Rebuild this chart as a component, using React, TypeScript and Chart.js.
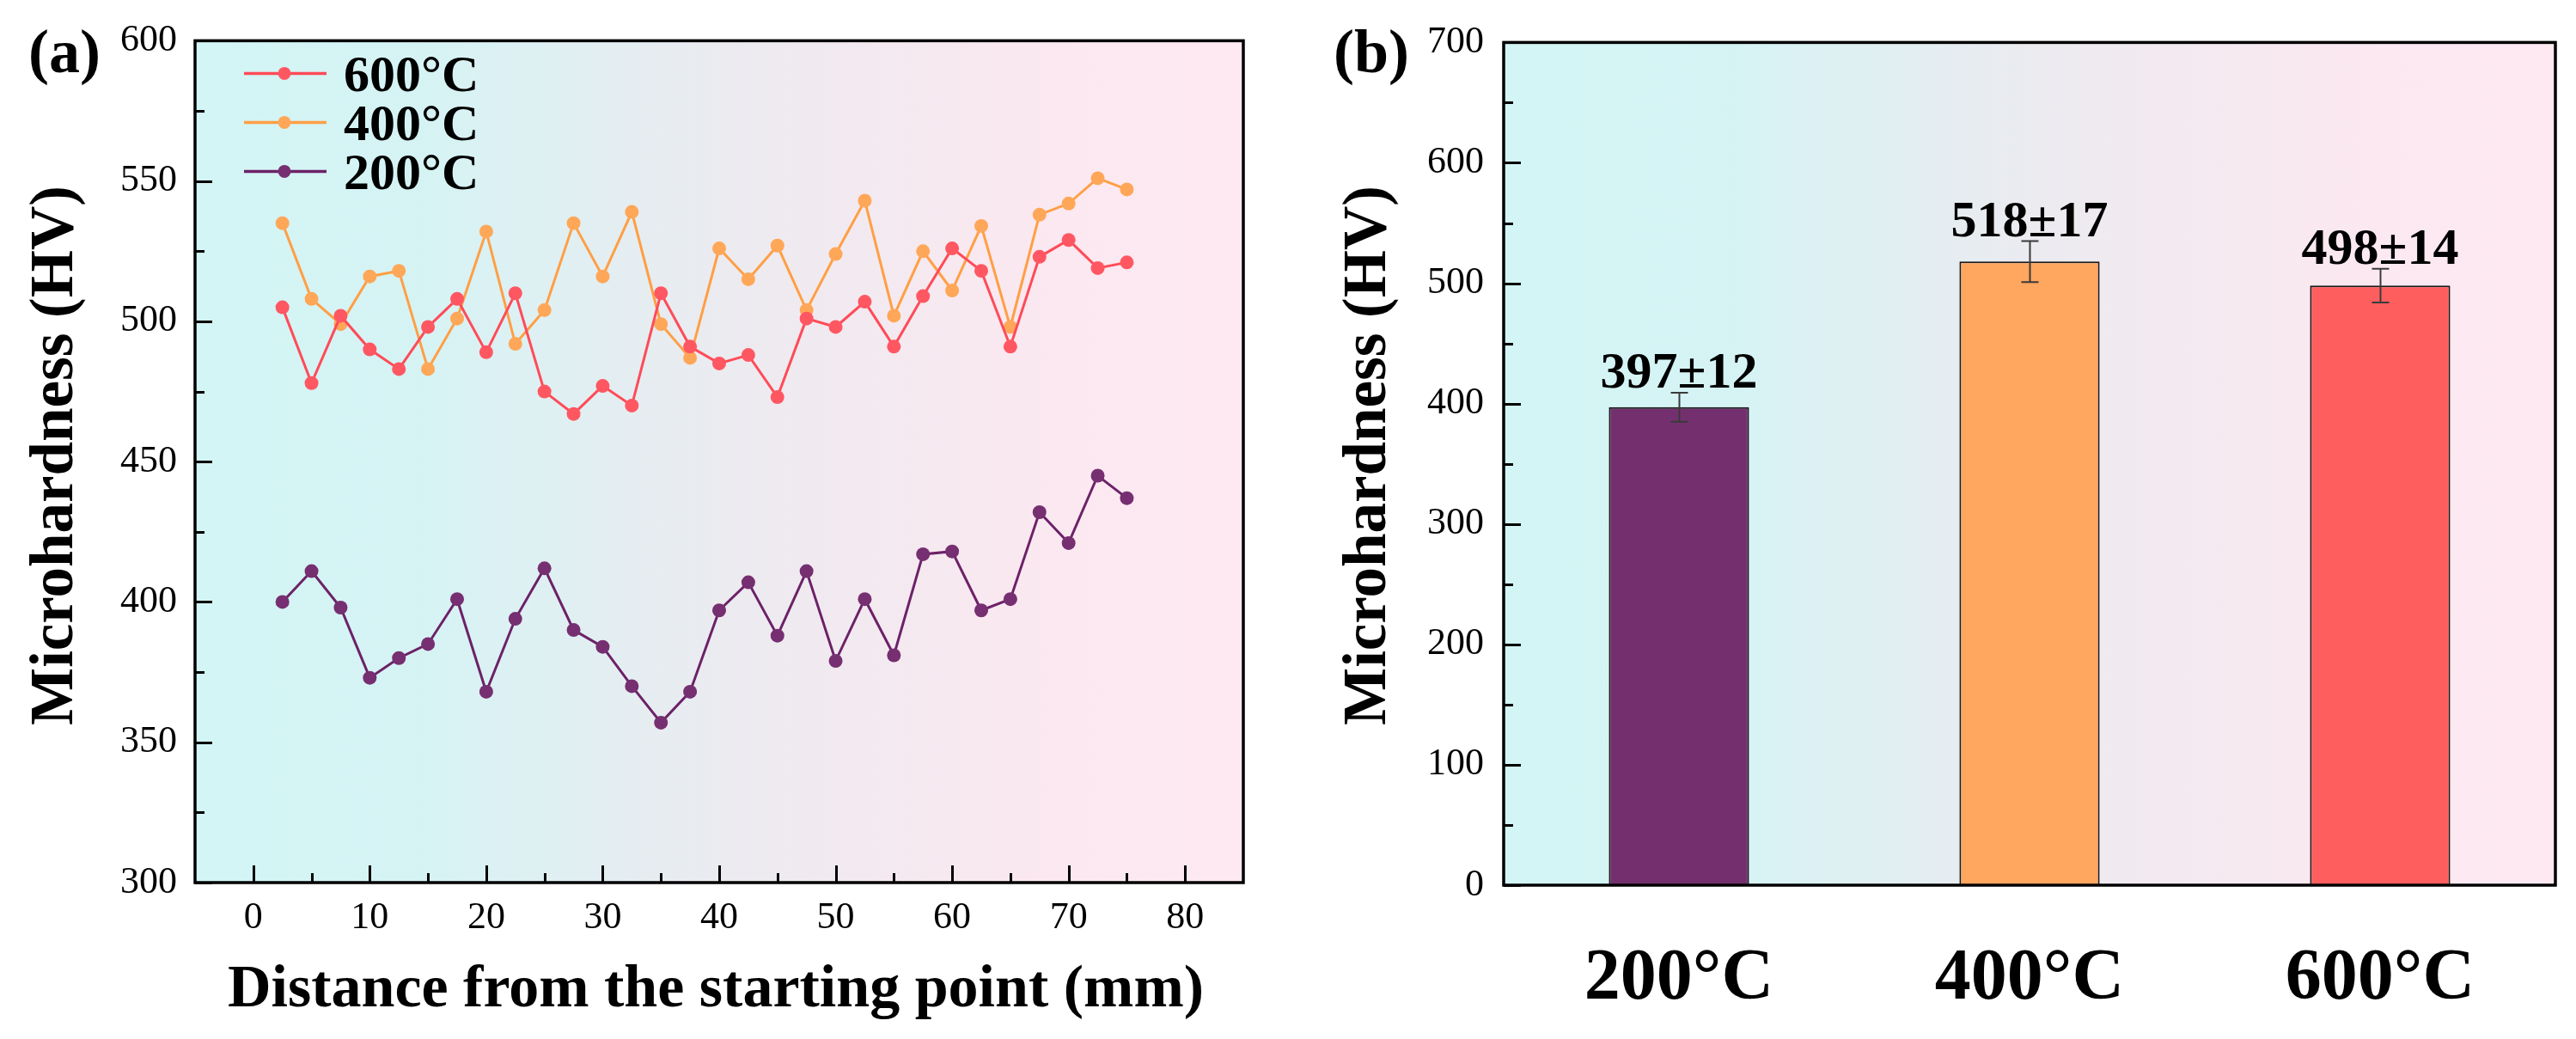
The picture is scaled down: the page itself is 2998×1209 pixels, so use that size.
import React, { useEffect, useRef } from "react";
import { Chart, registerables } from "chart.js";

Chart.register(...registerables);

const SERIF = "'Liberation Serif', 'Times New Roman', Times, serif";

// ---------- Panel (a) data ----------
const distances = [2.5, 5, 7.5, 10, 12.5, 15, 17.5, 20, 22.5, 25, 27.5, 30, 32.5, 35, 37.5, 40, 42.5, 45, 47.5, 50, 52.5, 55, 57.5, 60, 62.5, 65, 67.5, 70, 72.5, 75];
const hv600 = [505, 478, 502, 490, 483, 498, 508, 489, 510, 475, 467, 477, 470, 510, 491, 485, 488, 473, 501, 498, 507, 491, 509, 526, 518, 491, 523, 529, 519, 521];
const hv400 = [535, 508, 499, 516, 518, 483, 501, 532, 492, 504, 535, 516, 539, 499, 487, 526, 515, 527, 504, 524, 543, 502, 525, 511, 534, 498, 538, 542, 551, 547];
const hv200 = [400, 411, 398, 373, 380, 385, 401, 368, 394, 412, 390, 384, 370, 357, 368, 397, 407, 388, 411, 379, 401, 381, 417, 418, 397, 401, 432, 421, 445, 437];
const seriesLabels = ["600°C", "400°C", "200°C"];
const lineColors = ["#FF4B58", "#FF9F45", "#6C2268"];
const pointColors = ["#FF5762", "#FFA758", "#762F71"];
const xTicksA = [0, 10, 20, 30, 40, 50, 60, 70, 80];
const xMinorA = [5, 15, 25, 35, 45, 55, 65, 75];
const yTicksA = [300, 350, 400, 450, 500, 550, 600];
const yMinorA = [325, 375, 425, 475, 525, 575];

// ---------- Panel (b) data ----------
const barCategories = ["200°C", "400°C", "600°C"];
const barMeans = [397, 518, 498];
const barErrors = [12, 17, 14];
const barColors = ["#74306E", "#FFA65F", "#FF5E5E"];
const yTicksB = [0, 100, 200, 300, 400, 500, 600, 700];
const yMinorB = [50, 150, 250, 350, 450, 550, 650];

const gradientStops: [number, string][] = [
  [0, "#D3F5F5"],
  [0.22, "#D6F3F4"],
  [0.5, "#EBEBF0"],
  [0.78, "#FAE8F0"],
  [1, "#FEE9F2"],
];

const backgroundPlugin = {
  id: "bgGradient",
  beforeDraw(chart: any) {
    const { ctx, chartArea: a } = chart;
    ctx.save();
    ctx.fillStyle = "#ffffff";
    ctx.fillRect(0, 0, chart.width, chart.height);
    const g = ctx.createLinearGradient(a.left, 0, a.right, 0);
    gradientStops.forEach(([p, c]) => g.addColorStop(p, c));
    ctx.fillStyle = g;
    ctx.fillRect(a.left, a.top, a.right - a.left, a.bottom - a.top);
    ctx.restore();
  },
};

function frameTicksPlugin(cfg: { xMajor?: number[]; xMinor?: number[]; yMajor: number[]; yMinor: number[] }) {
  return {
    id: "frameTicks",
    afterDraw(chart: any) {
      const { ctx, chartArea: a, scales } = chart;
      ctx.save();
      ctx.strokeStyle = "#000";
      ctx.lineWidth = 3;
      const ys = scales.y;
      const drawY = (vals: number[], len: number) => {
        vals.forEach((v) => {
          const py = Math.round(ys.getPixelForValue(v)) + 0.5;
          ctx.beginPath();
          ctx.moveTo(a.left, py);
          ctx.lineTo(a.left + len, py);
          ctx.stroke();
        });
      };
      drawY(cfg.yMajor, 20);
      drawY(cfg.yMinor, 11);
      if (cfg.xMajor) {
        const xs = scales.x;
        const drawX = (vals: number[], len: number) => {
          vals.forEach((v) => {
            const px = Math.round(xs.getPixelForValue(v)) + 0.5;
            ctx.beginPath();
            ctx.moveTo(px, a.bottom);
            ctx.lineTo(px, a.bottom - len);
            ctx.stroke();
          });
        };
        drawX(cfg.xMajor, 20);
        drawX(cfg.xMinor || [], 11);
      }
      ctx.lineWidth = 3.5;
      ctx.strokeRect(a.left, a.top, a.right - a.left, a.bottom - a.top);
      ctx.restore();
    },
  };
}

function drawRotatedTitle(ctx: CanvasRenderingContext2D, text: string, baselineX: number, centerY: number, size: number) {
  ctx.save();
  ctx.translate(baselineX, centerY);
  ctx.rotate(-Math.PI / 2);
  ctx.font = `bold ${size}px ${SERIF}`;
  ctx.fillStyle = "#000";
  ctx.textAlign = "center";
  ctx.textBaseline = "alphabetic";
  ctx.fillText(text, 0, 0);
  ctx.restore();
}

const lineTextPlugin = {
  id: "lineText",
  afterDraw(chart: any) {
    const { ctx, chartArea: a } = chart;
    ctx.save();
    ctx.fillStyle = "#000";
    ctx.textBaseline = "alphabetic";
    ctx.textAlign = "left";
    ctx.font = `bold 72px ${SERIF}`;
    ctx.fillText("(a)", 33, 84);
    ctx.font = `bold 70px ${SERIF}`;
    ctx.textAlign = "center";
    ctx.fillText("Distance from the starting point (mm)", (a.left + a.right) / 2 - 4, 1171);
    ctx.restore();
    drawRotatedTitle(ctx, "Microhardness (HV)", 84, 530, 71);

    // legend
    ctx.save();
    chart.data.datasets.forEach((ds: any, i: number) => {
      const cy = a.top + 38 + i * 57;
      ctx.strokeStyle = ds.borderColor;
      ctx.lineWidth = 3.5;
      ctx.beginPath();
      ctx.moveTo(a.left + 57, cy);
      ctx.lineTo(a.left + 153, cy);
      ctx.stroke();
      ctx.fillStyle = ds.pointBackgroundColor;
      ctx.beginPath();
      ctx.arc(a.left + 104, cy, 7.5, 0, Math.PI * 2);
      ctx.fill();
      ctx.fillStyle = "#000";
      ctx.font = `bold 60px ${SERIF}`;
      ctx.textAlign = "left";
      ctx.textBaseline = "alphabetic";
      ctx.fillText(ds.label, a.left + 173, cy + 21);
    });
    ctx.restore();
  },
};

const barTextPlugin = {
  id: "barText",
  afterDatasetsDraw(chart: any) {
    const { ctx, scales } = chart;
    const meta = chart.getDatasetMeta(0);
    ctx.save();
    meta.data.forEach((bar: any, i: number) => {
      const m = barMeans[i];
      const e = barErrors[i];
      const yTop = scales.y.getPixelForValue(m + e);
      const yBot = scales.y.getPixelForValue(m - e);
      const x = Math.round(bar.x) + 0.5;
      ctx.strokeStyle = "#3a3a3a";
      ctx.lineWidth = 2;
      ctx.beginPath();
      ctx.moveTo(x, yTop);
      ctx.lineTo(x, yBot);
      ctx.moveTo(x - 10, yTop);
      ctx.lineTo(x + 10, yTop);
      ctx.moveTo(x - 10, yBot);
      ctx.lineTo(x + 10, yBot);
      ctx.stroke();
      ctx.fillStyle = "#000";
      ctx.font = `bold 60px ${SERIF}`;
      ctx.textAlign = "center";
      ctx.textBaseline = "alphabetic";
      ctx.fillText(`${m}±${e}`, bar.x, yTop - 6);
    });
    ctx.restore();
  },
  afterDraw(chart: any) {
    const { ctx } = chart;
    ctx.save();
    ctx.fillStyle = "#000";
    ctx.textBaseline = "alphabetic";
    ctx.textAlign = "left";
    ctx.font = `bold 72px ${SERIF}`;
    ctx.fillText("(b)", 52, 84);
    ctx.restore();
    drawRotatedTitle(ctx, "Microhardness (HV)", 112, 530, 71);
  },
};

function lineConfig(): any {
  const series = [hv600, hv400, hv200];
  return {
    type: "line",
    data: {
      datasets: series.map((vals, i) => ({
        label: seriesLabels[i],
        data: distances.map((d, j) => ({ x: d, y: vals[j] })),
        borderColor: lineColors[i],
        backgroundColor: pointColors[i],
        pointBackgroundColor: pointColors[i],
        pointBorderColor: pointColors[i],
        pointBorderWidth: 0,
        pointRadius: 8,
        borderWidth: 3,
        tension: 0,
        fill: false,
      })),
    },
    options: {
      responsive: false,
      animation: false,
      events: [],
      layout: { padding: { left: 0, top: 43.5, right: 53, bottom: 0 } },
      plugins: { legend: { display: false }, tooltip: { enabled: false } },
      scales: {
        x: {
          type: "linear",
          min: -5,
          max: 85,
          afterBuildTicks: (s: any) => {
            s.ticks = xTicksA.map((v) => ({ value: v }));
          },
          afterFit: (s: any) => {
            s.height = 182;
          },
          grid: { display: false, drawTicks: false },
          border: { display: false },
          ticks: { padding: 15, color: "#000", maxRotation: 0, autoSkip: false, font: { family: SERIF, size: 44 } },
        },
        y: {
          min: 300,
          max: 600,
          afterBuildTicks: (s: any) => {
            s.ticks = yTicksA.map((v) => ({ value: v }));
          },
          afterFit: (s: any) => {
            s.width = 227;
          },
          grid: { display: false, drawTicks: false },
          border: { display: false },
          ticks: { padding: 21, color: "#000", font: { family: SERIF, size: 44 } },
        },
      },
    },
    plugins: [
      backgroundPlugin,
      frameTicksPlugin({ xMajor: xTicksA, xMinor: xMinorA, yMajor: yTicksA, yMinor: yMinorA }),
      lineTextPlugin,
    ],
  };
}

function barConfig(): any {
  return {
    type: "bar",
    data: {
      labels: barCategories,
      datasets: [
        {
          label: "Microhardness",
          data: barMeans,
          backgroundColor: barColors,
          borderColor: "#1a1a1a",
          borderWidth: 2,
          categoryPercentage: 1,
          barPercentage: 0.4,
        },
      ],
    },
    options: {
      responsive: false,
      animation: false,
      events: [],
      layout: { padding: { left: 0, top: 44, right: 24, bottom: 0 } },
      plugins: { legend: { display: false }, tooltip: { enabled: false } },
      scales: {
        x: {
          type: "category",
          afterFit: (s: any) => {
            s.height = 179;
          },
          grid: { display: false, drawTicks: false },
          border: { display: false },
          ticks: { padding: 60, color: "#000", maxRotation: 0, autoSkip: false, font: { family: SERIF, size: 84, weight: "bold" } },
        },
        y: {
          min: 0,
          max: 700,
          afterBuildTicks: (s: any) => {
            s.ticks = yTicksB.map((v) => ({ value: v }));
          },
          afterFit: (s: any) => {
            s.width = 250;
          },
          grid: { display: false, drawTicks: false },
          border: { display: false },
          ticks: { padding: 23, color: "#000", font: { family: SERIF, size: 44 } },
        },
      },
    },
    plugins: [
      backgroundPlugin,
      barTextPlugin,
      frameTicksPlugin({ yMajor: yTicksB, yMinor: yMinorB }),
    ],
  };
}

function ChartCanvas(props: { width: number; height: number; left: number; makeConfig: () => any }) {
  const ref = useRef<HTMLCanvasElement>(null);
  useEffect(() => {
    const chart = new Chart(ref.current as HTMLCanvasElement, props.makeConfig());
    return () => chart.destroy();
  }, []);
  return (
    <canvas
      ref={ref}
      width={props.width}
      height={props.height}
      style={{ position: "absolute", left: props.left, top: 0, width: props.width, height: props.height }}
    />
  );
}

export default function App() {
  return (
    <div style={{ position: "absolute", left: 0, top: 0, width: 2998, height: 1209, background: "#fff", overflow: "hidden" }}>
      <ChartCanvas width={1500} height={1209} left={0} makeConfig={lineConfig} />
      <ChartCanvas width={1498} height={1209} left={1500} makeConfig={barConfig} />
    </div>
  );
}
